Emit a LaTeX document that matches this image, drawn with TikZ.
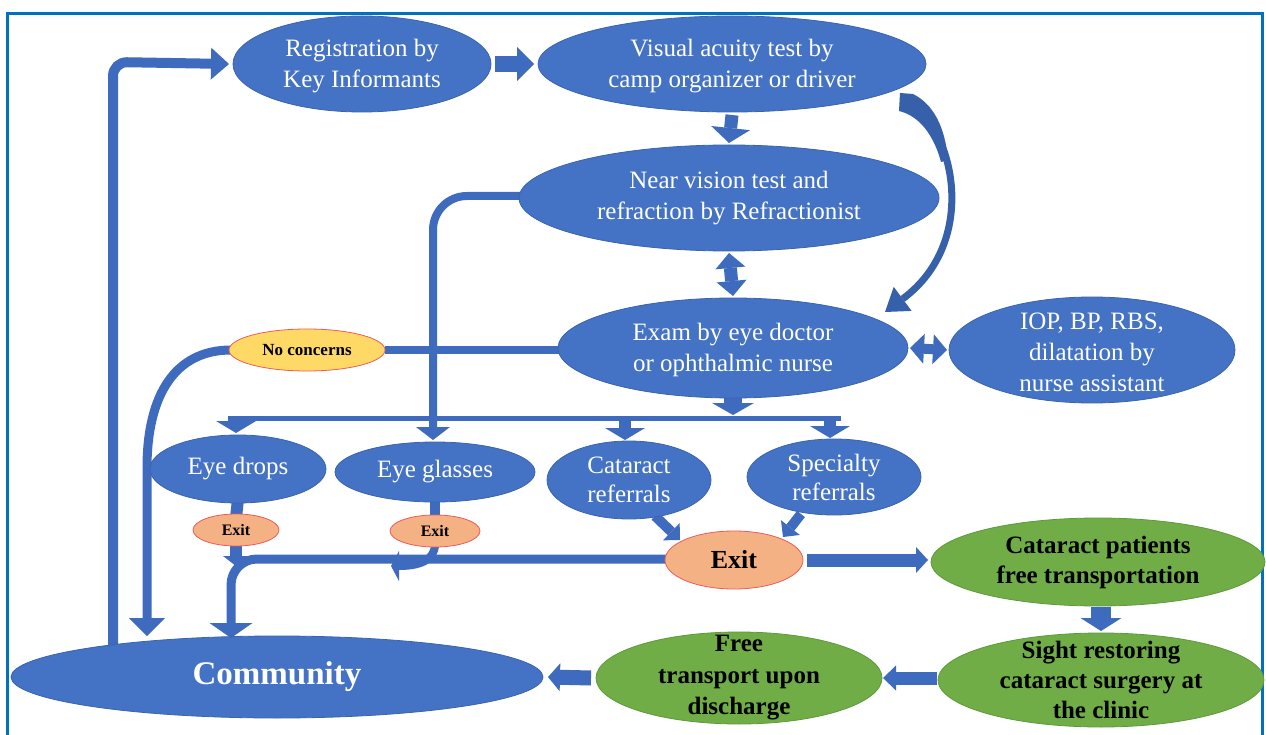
\documentclass[tikz,border=0pt]{standalone}
\usepackage{fontspec}
\setmainfont{Liberation Serif}
\usetikzlibrary{shapes.geometric,arrows.meta}
\pgfdeclarelayer{bg}
\pgfsetlayers{bg,main}
\definecolor{nblue}{HTML}{4472C4}
\definecolor{nblueline}{HTML}{3A64AE}
\definecolor{cblue}{HTML}{3F6BBE}
\definecolor{curvec}{HTML}{3760AA}
\definecolor{ngreen}{HTML}{70AD47}
\definecolor{ngreenline}{HTML}{5E9A3A}
\definecolor{exitfill}{HTML}{F4B183}
\definecolor{exitline}{HTML}{F05A5A}
\definecolor{yellowfill}{HTML}{FFD966}
\definecolor{framec}{HTML}{0070C0}
\tikzset{
  shp/.style={ellipse, inner sep=0pt, outer sep=0pt},
  bshape/.style={shp, fill=nblue, draw=nblueline, line width=0.8pt},
  gshape/.style={shp, fill=ngreen, draw=ngreenline, line width=0.8pt},
  eshape/.style={shp, fill=exitfill, draw=exitline, line width=0.8pt},
  yshape/.style={shp, fill=yellowfill, draw=exitline, line width=0.8pt},
  btext/.style={align=center, inner sep=0pt, text=white, font=\fontsize{25}{31}\selectfont},
  gtext/.style={align=center, inner sep=0pt, text=black, font=\fontsize{25}{30}\selectfont\bfseries},
  ctext/.style={align=center, inner sep=0pt, text=white, font=\fontsize{33}{38}\selectfont\bfseries},
  xbig/.style={align=center, inner sep=0pt, text=black, font=\fontsize{26}{30}\selectfont\bfseries},
  xsmall/.style={align=center, inner sep=0pt, text=black, font=\fontsize{16}{19}\selectfont\bfseries},
  conn/.style={draw=cblue, line width=#1},
  tip/.style n args={2}{-{Triangle[width=#1,length=#2,line width=0pt]}},
  dtip/.style n args={2}{{Triangle[width=#1,length=#2,line width=0pt]}-{Triangle[width=#1,length=#2,line width=0pt]}}
}
\begin{document}
\begin{tikzpicture}[x=1pt,y=-1pt]
\useasboundingbox (0,0) rectangle (1266,735);

% nodes
\node[bshape,minimum width=258pt,minimum height=96pt] (reg) at (362,64) {};
\node[btext] (regt) at ([yshift=-2pt]reg.center) {Registration by\\Key Informants};
\node[bshape,minimum width=388pt,minimum height=96pt] (va) at (732,64) {};
\node[btext] (vat) at ([yshift=-2pt]va.center) {Visual acuity test by\\camp organizer or driver};
\node[bshape,minimum width=420pt,minimum height=106pt] (nv) at (729,198) {};
\node[btext] (nvt) at (nv.center) {Near vision test and\\refraction by Refractionist};
\node[bshape,minimum width=350pt,minimum height=100pt] (ex) at (733,348) {};
\node[btext] (ext) at ([yshift=-2pt]ex.center) {Exam by eye doctor\\or ophthalmic nurse};
\node[bshape,minimum width=286pt,minimum height=106pt] (iop) at (1092,350) {};
\node[btext] (iopt) at ([yshift=-2pt]iop.center) {IOP, BP, RBS,\\dilatation by\\nurse assistant};
\node[yshape,minimum width=156pt,minimum height=42pt] (nc) at (307,350) {};
\node[xsmall,font=\fontsize{17}{20}\selectfont\bfseries] (nct) at (nc.center) {No concerns};
\node[bshape,minimum width=176pt,minimum height=68pt] (drops) at (238,469) {};
\node[btext] (dropst) at (drops.center) {Eye drops};
\node[bshape,minimum width=200pt,minimum height=60pt] (glasses) at (435,472) {};
\node[btext] (glassest) at (glasses.center) {Eye glasses};
\node[bshape,minimum width=164pt,minimum height=78pt] (cat) at (629,480) {};
\node[btext,font=\fontsize{25}{29}\selectfont] (catt) at (cat.center) {Cataract\\referrals};
\node[bshape,minimum width=174pt,minimum height=76pt] (spec) at (834,477) {};
\node[btext,font=\fontsize{25}{29}\selectfont] (spect) at (spec.center) {Specialty\\referrals};
\node[eshape,minimum width=86pt,minimum height=32pt] (e1) at (236,530) {};
\node[xsmall] (e1t) at (e1.center) {Exit};
\node[eshape,minimum width=90pt,minimum height=32pt] (e2) at (435,531) {};
\node[xsmall] (e2t) at (e2.center) {Exit};
\node[eshape,minimum width=138pt,minimum height=58pt] (bx) at (734,560) {};
\node[xbig] (bxt) at (bx.center) {Exit};
\node[gshape,minimum width=334pt,minimum height=88pt] (cp) at (1098,562) {};
\node[gtext] (cpt) at (cp.center) {Cataract patients\\free transportation};
\node[gshape,minimum width=326pt,minimum height=94pt] (sr) at (1101,680) {};
\node[gtext] (srt) at (sr.center) {Sight restoring\\cataract surgery at\\the clinic};
\node[gshape,minimum width=286pt,minimum height=92pt] (ft) at (739,678) {};
\node[gtext,font=\fontsize{25}{31.5}\selectfont\bfseries] (ftt) at (ft.center) {Free\\transport upon\\discharge};
\node[bshape,minimum width=532pt,minimum height=82pt] (comm) at (277,677) {};
\node[ctext] (commt) at (comm.center) {Community};

% coordinates
\coordinate (c1) at (113,62);
\coordinate (cv1) at (906,102);
\coordinate (cv2) at (885,312);
\coordinate (g1) at (433,196);
\coordinate (barl) at (228,418);
\coordinate (barr) at (841,418);
\coordinate (bd) at (236,418);
\coordinate (bc) at (625,418);
\coordinate (bs) at (830,418);
\coordinate (n2) at (147,468);
\coordinate (x1) at (231,559);
\coordinate (x2) at (391,566);

\begin{pgfonlayer}{bg}
\fill[white] (0,0) rectangle (1266,735);
% frame
\draw[framec, line width=3pt] (7,745) -- (7,14) -- (1262,14) -- (1262,745);
% community -> registration
\draw[conn=10pt, rounded corners=14pt, tip={32pt}{18pt}]
  ([yshift=-14pt]comm.north -| c1) -- (c1) -- ([xshift=-4pt]reg.west);
% registration -> visual acuity
\draw[conn=16pt, tip={34pt}{17pt}] ([xshift=4pt]reg.east) -- ([xshift=-4pt]va.west);
% visual acuity -> near vision
\draw[conn=13pt, tip={39pt}{15pt}] ([yshift=-3pt]va.south) -- ([yshift=2pt]nv.north);
% near vision <-> exam
\draw[conn=13pt, dtip={30pt}{15pt}] ([yshift=-2pt]nv.south) -- ([yshift=2pt]ex.north);
% visual acuity -> exam (curved, tapered)
\fill[curvec] (900,93) -- (913,94) .. controls (933,104) and (945,126) .. (948,160)
  -- (941,162) .. controls (934,136) and (920,116) .. (899,111) -- cycle;
\draw[draw=curvec, line width=7pt, tip={30pt}{22pt}]
  (cv1) .. controls (952,122) and (982,240) .. (cv2);
% exam <-> IOP
\draw[conn=10pt, dtip={30pt}{14pt}] ([xshift=2pt]ex.east) -- ([xshift=-2pt]iop.west);
% exam -> bar
\draw[conn=18pt, tip={42pt}{12pt}] ([yshift=1pt]ex.south) -- (ex.south |- 0,415);
% bar
\draw[conn=5pt] (barl) -- (barr);
\draw[conn=12pt, tip={40pt}{12pt}] (bd) -- ([yshift=2pt]bd |- drops.north);
\draw[conn=12pt, tip={40pt}{12pt}] (bc) -- ([yshift=1pt]bc |- cat.north);
\draw[conn=12pt, tip={40pt}{12pt}] (bs) -- ([yshift=1pt]bs |- spec.north);
% near vision -> eye glasses
\draw[conn=8pt, rounded corners=34pt, tip={34pt}{13pt}]
  ([xshift=4pt]nv.west |- g1) -- (g1) -- ([yshift=2pt]g1 |- glasses.north);
% exam -> no concerns
\draw[conn=8pt] ([xshift=4pt]ex.west |- nc) -- (nc.east);
% no concerns -> community
\draw[conn=9pt, tip={36pt}{18pt}]
  ([xshift=2pt]nc.west) .. controls (175,350) and (147,395) .. (n2) -- (n2 |- comm.north);
% eye drops -> exit, eye glasses -> exit
\draw[conn=12pt] ([yshift=4pt]drops.south) -- ([yshift=-4pt]e1.north);
\draw[conn=10pt] ([yshift=4pt]glasses.south) -- ([yshift=-4pt]e2.north);
% big exit -> community
\draw[conn=9pt, rounded corners=26pt, tip={43pt}{15pt}]
  ([xshift=3pt]bx.west |- x1) -- (x1) -- ([yshift=-2pt]x1 |- comm.north);
% exit1 down
\draw[conn=12pt, tip={26pt}{10pt}] ([yshift=3pt]e1.south) -- ([yshift=-20pt]e1.south);
% exit2 curved left
\draw[conn=8pt, tip={30pt}{8pt}]
  ([yshift=3pt]e2.south) .. controls ([yshift=-14pt]e2.south) and (418,566) .. (x2);
% cataract -> big exit, specialty -> big exit
\draw[conn=10pt, tip={24pt}{12pt}] ([shift={(26pt,-36pt)}]cat.center) -- ([shift={(-54pt,20pt)}]bx.center);
\draw[conn=10pt, tip={24pt}{12pt}] ([shift={(-33pt,-37pt)}]spec.center) -- ([shift={(49pt,23pt)}]bx.center);
% big exit -> cataract patients
\draw[conn=13pt, tip={26pt}{12pt}] ([xshift=4pt]bx.east) -- ([xshift=-3pt]cp.west |- bx);
% cataract patients -> sight restoring
\draw[conn=20pt, tip={41pt}{13pt}] ([yshift=-1pt]sr.north |- cp.south) -- ([yshift=2pt]sr.north);
% sight restoring -> free transport
\draw[conn=13pt, tip={25pt}{13pt}] ([xshift=-1pt]sr.west |- ft) -- ([xshift=1pt]ft.east);
% free transport -> community
\draw[conn=15pt, tip={28pt}{12pt}] ([xshift=-5pt]ft.west) -- ([xshift=5pt]comm.east);
\end{pgfonlayer}
\end{tikzpicture}
\end{document}
